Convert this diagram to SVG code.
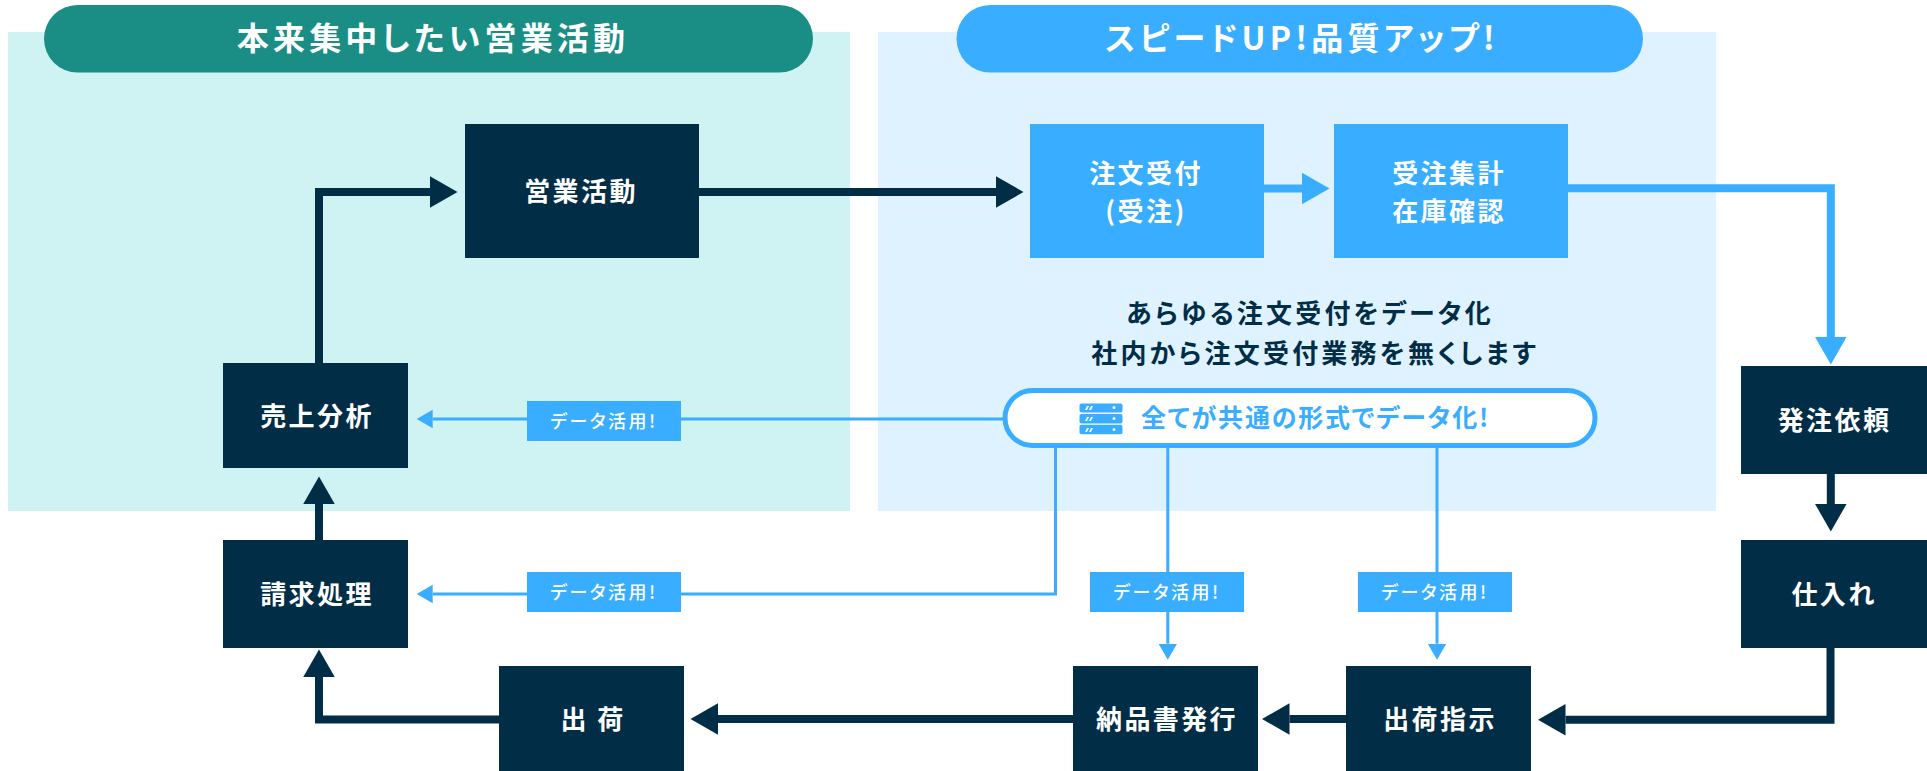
<svg xmlns="http://www.w3.org/2000/svg" width="1927" height="771" viewBox="0 0 1927 771">
<defs>
<marker id="hd" markerUnits="userSpaceOnUse" markerWidth="28" markerHeight="32" refX="0" refY="15.75" orient="auto"><polygon points="0,0 27.5,15.75 0,31.5" fill="#012d46"/></marker>
<marker id="hb" markerUnits="userSpaceOnUse" markerWidth="28" markerHeight="32" refX="0" refY="15.75" orient="auto"><polygon points="0,0 27.5,15.75 0,31.5" fill="#39adff"/></marker>
<marker id="hs" markerUnits="userSpaceOnUse" markerWidth="17" markerHeight="19" refX="0" refY="9.25" orient="auto"><polygon points="0,0 16,9.25 0,18.5" fill="#39adff"/></marker>
</defs>
<style>
text{font-family:"Noto Sans CJK JP","Noto Sans",sans-serif;font-weight:700;text-anchor:middle;font-feature-settings:"palt"}
.t{font-size:32px;letter-spacing:4.2px;fill:#fff}
.n{font-size:26px;letter-spacing:2.4px;fill:#fff}
.m{font-size:26px;letter-spacing:3.2px;fill:#012d46}
.b{font-size:18px;letter-spacing:2.5px;fill:#fff;font-weight:500}
.dk{fill:#012d46}.bl{fill:#39adff}
.cd,.cb,.cs{fill:none}
.cd{stroke:#012d46;stroke-width:8}
.cb{stroke:#39adff;stroke-width:8}
.cs{stroke:#39adff;stroke-width:3}
</style>
<g id="panels">
<rect x="8" y="32" width="842" height="479" fill="#cef3f2"/>
<rect x="878" y="32" width="838" height="479" fill="#dff2ff"/>
</g>
<g id="connectors">
<path class="cd" d="M319 363V192H430" marker-end="url(#hd)"/>
<path class="cd" d="M699 192H996" marker-end="url(#hd)"/>
<path class="cb" d="M1264 188.5H1302" marker-end="url(#hb)"/>
<path class="cb" d="M1568 188.3H1830.8V337" marker-end="url(#hb)"/>
<path class="cd" d="M1830.8 474V504" marker-end="url(#hd)"/>
<path class="cd" d="M1830.5 648V719.8H1565.5" marker-end="url(#hd)"/>
<path class="cd" d="M1346 719H1289.5" marker-end="url(#hd)"/>
<path class="cd" d="M1073 719H718" marker-end="url(#hd)"/>
<path class="cd" d="M499 719.5H319V677" marker-end="url(#hd)"/>
<path class="cd" d="M319 540V504" marker-end="url(#hd)"/>
<path class="cs" d="M1003 419H432.7" marker-end="url(#hs)"/>
<path class="cs" d="M1055.5 448V594H432.7" marker-end="url(#hs)"/>
<path class="cs" d="M1167.8 448V643.7" marker-end="url(#hs)"/>
<path class="cs" d="M1437 448V643.7" marker-end="url(#hs)"/>
</g>
<g id="title-sales"><rect x="44" y="5" width="769" height="67.500" rx="33.700" fill="#1a8d85"/><text class="t" x="433" y="50">本来集中したい営業活動</text></g>
<g id="title-speed"><rect x="956.500" y="5" width="686.500" height="67.500" rx="33.700" class="bl"/><text class="t" x="1302" y="50">スピードUP!品質アップ!</text></g>
<g id="n-sales"><rect class="dk" x="465" y="124" width="234" height="134"/><text class="n" x="581" y="201">営業活動</text></g>
<g id="n-order"><rect class="bl" x="1030" y="124" width="234" height="134"/><text class="n" x="1146" y="183">注文受付</text><text class="n" x="1146" y="221">(受注)</text></g>
<g id="n-tally"><rect class="bl" x="1334" y="124" width="234" height="134"/><text class="n" x="1449" y="183">受注集計</text><text class="n" x="1449" y="221">在庫確認</text></g>
<g id="message"><text class="m" x="1310" y="323">あらゆる注文受付をデータ化</text><text class="m" x="1315" y="363">社内から注文受付業務を無くします</text></g>
<g id="data-pill">
<rect x="1005" y="390.500" width="590" height="55" rx="27.500" fill="#fff" stroke="#39adff" stroke-width="5"/>
<g class="bl"><rect x="1079.500" y="403.500" width="43" height="9" rx="2"/><rect x="1079.500" y="414" width="43" height="9.500" rx="2"/><rect x="1079.500" y="424.700" width="43" height="9.500" rx="2"/></g>
<g fill="#fff"><path d="M1085 410l2-4h2l-2 4zM1089 410l2-4h2l-2 4zM1085 421l2-4h2l-2 4zM1089 421l2-4h2l-2 4zM1085 432l2-4h2l-2 4zM1089 432l2-4h2l-2 4z"/><circle cx="1114" cy="407.500" r="1.500"/><circle cx="1114" cy="418.500" r="1.500"/><circle cx="1114" cy="429.500" r="1.500"/></g>
<text x="1315.500" y="427" style="font-size:25px;letter-spacing:1.8px;fill:#39adff">全てが共通の形式でデータ化!</text>
</g>
<g id="n-analysis"><rect class="dk" x="223" y="363" width="185" height="105"/><text class="n" x="317" y="426">売上分析</text></g>
<g id="n-billing"><rect class="dk" x="223" y="540" width="185" height="108"/><text class="n" x="317" y="604">請求処理</text></g>
<g id="n-ship"><rect class="dk" x="499" y="666" width="185" height="105"/><text class="n" x="593" y="729" xml:space="preserve">出 荷</text></g>
<g id="n-invoice"><rect class="dk" x="1073" y="666" width="185" height="105"/><text class="n" x="1167" y="729">納品書発行</text></g>
<g id="n-shipcmd"><rect class="dk" x="1346" y="666" width="185" height="105"/><text class="n" x="1440" y="729">出荷指示</text></g>
<g id="n-purchase"><rect class="dk" x="1741" y="540" width="186" height="108"/><text class="n" x="1834" y="604">仕入れ</text></g>
<g id="n-request"><rect class="dk" x="1741" y="366" width="186" height="108"/><text class="n" x="1834.500" y="430">発注依頼</text></g>
<g id="badge-1"><rect class="bl" x="527" y="401" width="154" height="40"/><text class="b" x="604" y="428">データ活用!</text></g>
<g id="badge-2"><rect class="bl" x="527" y="572" width="154" height="40"/><text class="b" x="604" y="599">データ活用!</text></g>
<g id="badge-3"><rect class="bl" x="1090" y="572" width="154" height="40"/><text class="b" x="1167" y="599">データ活用!</text></g>
<g id="badge-4"><rect class="bl" x="1358" y="572" width="154" height="40"/><text class="b" x="1435" y="599">データ活用!</text></g>
</svg>
